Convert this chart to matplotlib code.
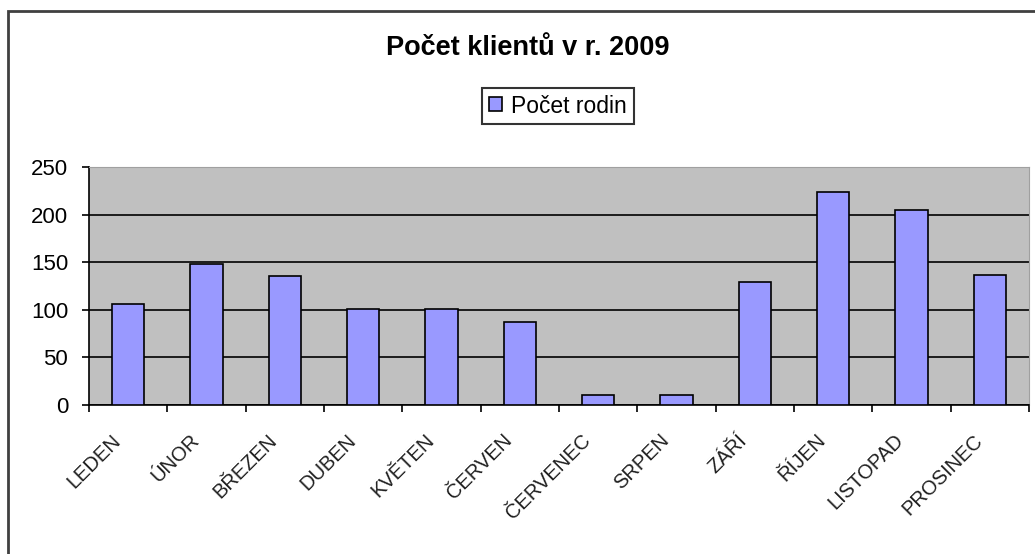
import matplotlib.pyplot as plt
from matplotlib.patches import Rectangle

plt.rcParams['font.family'] = ['Liberation Sans', 'DejaVu Sans']

months = ["LEDEN", "ÚNOR", "BŘEZEN", "DUBEN", "KVĚTEN", "ČERVEN",
          "ČERVENEC", "SRPEN", "ZÁŘÍ", "ŘÍJEN", "LISTOPAD", "PROSINEC"]
families = [106, 148, 135, 101, 101, 87, 10, 10, 129, 224, 205, 137]
yticks = [0, 50, 100, 150, 200, 250]


def main():
    W, H = 1035, 554
    fig = plt.figure(figsize=(W / 100, H / 100), dpi=100)
    # plot area in pixel coords: x 89..1029, y 167..405
    ax = fig.add_axes([89 / W, 1 - 405 / H, (1029 - 89) / W, (405 - 167) / H])
    ax.set_facecolor("#c0c0c0")

    x = list(range(len(months)))
    ax.bar(x, families, width=0.41, color="#9999ff", edgecolor="black",
           linewidth=1.2, zorder=3, label="Počet rodin")

    ax.set_xlim(-0.5, len(months) - 0.5)
    ax.set_ylim(0, 250)
    ax.set_yticks(yticks)
    ax.set_yticklabels([str(v) for v in yticks], fontsize=16)
    ax.yaxis.grid(True, color="black", linewidth=1.2, zorder=1)
    ax.set_axisbelow(True)

    # ticks at category boundaries
    ax.set_xticks([i - 0.5 for i in range(len(months) + 1)])
    ax.set_xticklabels([])
    ax.tick_params(axis="x", direction="out", length=5, width=1.2, color="black")
    ax.tick_params(axis="y", direction="out", length=5, width=1.2, color="black", pad=10)
    for i, m in enumerate(months):
        ax.text(i - 0.22, -27, m, rotation=45, ha="right", va="top",
                rotation_mode="anchor", fontsize=14.5, color="#202020")

    ax.spines["top"].set_color("#a0a0a0")
    ax.spines["right"].set_color("#a0a0a0")
    ax.spines["left"].set_linewidth(1.2)
    ax.spines["bottom"].set_linewidth(1.2)

    fig.text(528 / W, 1 - 48 / H, "Počet klientů v r. 2009", ha="center", va="center",
             fontsize=19.5, fontweight="bold")

    leg = fig.legend(loc="center", bbox_to_anchor=(558 / W, 1 - 106 / H), fontsize=16.5,
                     frameon=True, fancybox=False, edgecolor="black", handlelength=0.55,
                     handleheight=0.55, handletextpad=0.4, borderpad=0.3,
                     borderaxespad=0)
    leg.get_frame().set_linewidth(1.5)

    # outer chart frame
    fig.patches.append(Rectangle((8 / W, -0.1), 1.2, 1 - 11 / H + 0.1, transform=fig.transFigure,
                                 fill=False, edgecolor="#404040", linewidth=2))

    fig.savefig("out.png", dpi=100)


if __name__ == "__main__":
    main()
